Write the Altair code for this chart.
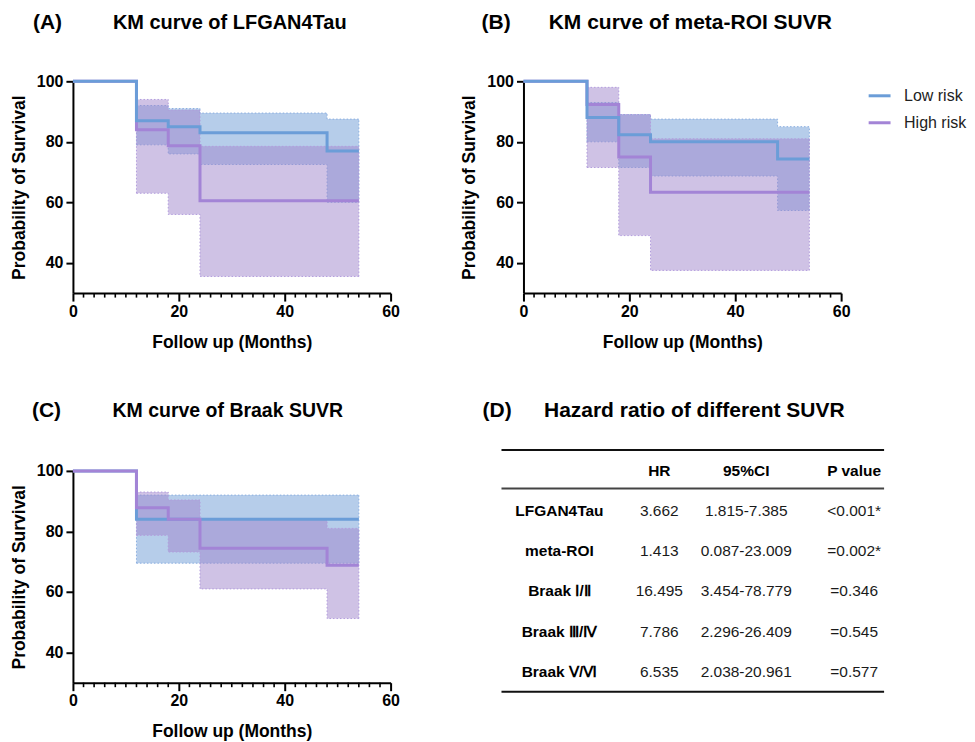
import altair as alt
import pandas as pd

FONT = "Liberation Sans"
BLUE = "#6B9DD8"
PURPLE = "#A384D6"
BLUE_FILL = "#6E9BD6"
PURPLE_FILL = "#9F86CC"
BLUE_EDGE = "#8AAEE0"
PURPLE_EDGE = "#B29CDD"

GROUPS = ["Low risk", "High risk"]
TIMES = [0, 12, 18, 24, 48, 54]
CI_TIMES = [12, 18, 24, 48, 54]
MINOR_TICKS = [2, 4, 6, 8, 10, 12, 14, 16, 18, 22, 24, 26, 28, 30, 32, 34, 36, 38,
               42, 44, 46, 48, 50, 52, 54, 56, 58]
X_TICKS = [0, 20, 40, 60]
Y_TICKS = [40, 60, 80, 100]

# Panel A: LFGAN4Tau
A_LOW = [100, 87, 85, 83, 77, 77]
A_HIGH = [100, 84, 78.7, 60.5, 60.5, 60.5]
A_LOW_UP = [92, 91, 89.5, 87.5, 87.5]
A_LOW_LO = [79, 76, 72.5, 60, 60]
A_HIGH_UP = [94, 90.5, 78.5, 78.5, 78.5]
A_HIGH_LO = [63, 56, 35.5, 35.5, 35.5]

# Panel B: meta-ROI SUVR
B_LOW = [100, 88, 82.3, 80, 74.3, 74.3]
B_HIGH = [100, 92.3, 75, 63.3, 63.3, 63.3]
B_LOW_UP = [93, 89, 87.5, 85, 85]
B_LOW_LO = [80, 71.5, 68.7, 57.3, 57.3]
B_HIGH_UP = [98, 89, 81, 81, 81]
B_HIGH_LO = [71.5, 49, 37.5, 37.5, 37.5]

# Panel C: Braak SUVR
C_LOW = [100, 84, 84, 84, 84, 84]
C_HIGH = [100, 87.8, 84, 74.4, 68.8, 68.8]
C_LOW_UP = [92, 92, 92, 92, 92]
C_LOW_LO = [69.5, 69.5, 69.5, 69.5, 69.5]
C_HIGH_UP = [93, 90.4, 84, 81, 81]
C_HIGH_LO = [78.7, 73.2, 61, 51.2, 51.2]

# Panel D: table
TABLE_HEADER = ["HR", "95%CI", "P value"]
TABLE_ROWS = ["LFGAN4Tau", "meta-ROI", "Braak Ⅰ/Ⅱ", "Braak Ⅲ/Ⅳ", "Braak Ⅴ/Ⅵ"]
TABLE_HR = ["3.662", "1.413", "16.495", "7.786", "6.535"]
TABLE_CI = ["1.815-7.385", "0.087-23.009", "3.454-78.779", "2.296-26.409", "2.038-20.961"]
TABLE_P = ["<0.001*", "=0.002*", "=0.346", "=0.545", "=0.577"]

W, H = 318, 212

XS = alt.Scale(domain=[0, 60], nice=False, zero=False)
YS = alt.Scale(domain=[30, 100], nice=False, zero=False)

XAX = alt.Axis(title="Follow up (Months)", values=X_TICKS, grid=False,
               domainColor="black", domainWidth=2, tickColor="black", tickWidth=2,
               tickSize=8, labelFont=FONT, labelFontSize=16, labelFontWeight="bold",
               labelColor="black", labelPadding=2, labelFlush=False, labelOverlap=False,
               titleFont=FONT, titleFontSize=17.5, titleFontWeight="bold",
               titleColor="black", titlePadding=14)
YAX = alt.Axis(title="Probability of Survival", values=Y_TICKS, grid=False,
               domainColor="black", domainWidth=2, tickColor="black", tickWidth=2,
               tickSize=7, labelFont=FONT, labelFontSize=16, labelFontWeight="bold",
               labelColor="black", labelPadding=3, labelFlush=False, labelOverlap=False,
               titleFont=FONT, titleFontSize=17.5, titleFontWeight="bold",
               titleColor="black", titlePadding=8)


def band_layers(up, lo, fill, edge):
    band = pd.DataFrame({"time": CI_TIMES, "surv": lo, "hi": up})
    area = alt.Chart(band).mark_area(interpolate="step-after", opacity=0.5, color=fill).encode(
        x=alt.X("time:Q", scale=XS, axis=XAX),
        y=alt.Y("surv:Q", scale=YS, axis=YAX),
        y2="hi:Q",
    )
    edges = pd.DataFrame({
        "time": CI_TIMES + CI_TIMES,
        "surv": up + lo,
        "edge": ["upper"] * len(CI_TIMES) + ["lower"] * len(CI_TIMES),
    })
    line = alt.Chart(edges).mark_line(interpolate="step-after", strokeDash=[1.5, 2],
                                      strokeWidth=1, color=edge).encode(
        x=alt.X("time:Q", scale=XS, axis=XAX),
        y=alt.Y("surv:Q", scale=YS, axis=YAX),
        detail="edge:N",
    )
    ends = pd.DataFrame({"time": [CI_TIMES[0], CI_TIMES[-1]],
                         "surv": [lo[0], lo[-1]], "hi": [up[0], up[-1]]})
    sides = alt.Chart(ends).mark_rule(strokeDash=[1.5, 2], strokeWidth=1, color=edge).encode(
        x=alt.X("time:Q", scale=XS, axis=XAX),
        y=alt.Y("surv:Q", scale=YS, axis=YAX),
        y2="hi:Q",
    )
    return [area, line, sides]


def curve_layer(vals, group, color, legend):
    df = pd.DataFrame({"time": TIMES, "surv": vals, "group": group})
    if legend is None:
        stroke = alt.value(color)
    else:
        stroke = alt.Stroke("group:N", scale=alt.Scale(domain=GROUPS, range=[BLUE, PURPLE]),
                            legend=legend)
    return alt.Chart(df).mark_line(interpolate="step-after", strokeWidth=3).encode(
        x=alt.X("time:Q", scale=XS, axis=XAX),
        y=alt.Y("surv:Q", scale=YS, axis=YAX),
        stroke=stroke,
    )


def label_layer(text, x, y, size, align):
    return alt.Chart(pd.DataFrame({"t": [text]})).mark_text(
        font=FONT, fontSize=size, fontWeight="bold", color="black",
        align=align, baseline="middle").encode(
        x=alt.value(x), y=alt.value(y), text="t:N")


def km_panel(low, high, low_up, low_lo, high_up, high_lo, title, letter,
             title_x, letter_x, label_y, title_size, low_on_top, legend=None):
    layers = []
    layers += band_layers(low_up, low_lo, BLUE_FILL, BLUE_EDGE)
    layers += band_layers(high_up, high_lo, PURPLE_FILL, PURPLE_EDGE)
    ticks = alt.Chart(pd.DataFrame({"time": MINOR_TICKS})).mark_rule(
        color="black", strokeWidth=1.6).encode(
        x=alt.X("time:Q", scale=XS, axis=XAX), y=alt.value(H), y2=alt.value(H + 4.5))
    layers.append(ticks)
    lo_line = curve_layer(low, "Low risk", BLUE, legend)
    hi_line = curve_layer(high, "High risk", PURPLE, legend)
    layers += [hi_line, lo_line] if low_on_top else [lo_line, hi_line]
    layers.append(label_layer(title, title_x, label_y, title_size, "center"))
    layers.append(label_layer(letter, letter_x, label_y, 21, "left"))
    return alt.layer(*layers).properties(width=W, height=H)


legend_b = alt.Legend(title=None, orient="none", legendX=344, legendY=2,
                      symbolType="stroke", symbolStrokeWidth=3, symbolSize=480,
                      labelFont=FONT, labelFontSize=16, labelColor="#222",
                      labelOffset=12, rowPadding=6)

panel_a = km_panel(A_LOW, A_HIGH, A_LOW_UP, A_LOW_LO, A_HIGH_UP, A_HIGH_LO,
                   "KM curve of LFGAN4Tau", "(A)", 157, -40, -58.5, 20, True)
panel_b = km_panel(B_LOW, B_HIGH, B_LOW_UP, B_LOW_LO, B_HIGH_UP, B_HIGH_LO,
                   "KM curve of meta-ROI SUVR", "(B)", 167, -42, -58.5, 21, True, legend_b)
panel_c = km_panel(C_LOW, C_HIGH, C_LOW_UP, C_LOW_LO, C_HIGH_UP, C_HIGH_LO,
                   "KM curve of Braak SUVR", "(C)", 155, -41, -60, 19.5, False)

# ---- table panel ----
TW = 383
ROW_DOMAIN = ["header"] + TABLE_ROWS
YR = alt.Scale(type="point", domain=ROW_DOMAIN, range=[0, 201], padding=0)

header_df = pd.DataFrame({"row": ["header"] * 3, "col": TABLE_HEADER, "t": TABLE_HEADER})
body = pd.DataFrame({"row": TABLE_ROWS, "label": TABLE_ROWS, "HR": TABLE_HR,
                     "CI": TABLE_CI, "P": TABLE_P})

COL_X = {"label": 58, "HR": 158, "CI": 245, "P": 353}
HEADER_X = {"HR": 158, "95%CI": 245, "P value": 353}


def table_text(df, field, x, bold):
    return alt.Chart(df).mark_text(font=FONT, fontSize=15.5,
                                   fontWeight="bold" if bold else "normal",
                                   color="black" if bold else "#1a1a1a",
                                   align="center", baseline="middle").encode(
        x=alt.value(x),
        y=alt.Y("row:N", scale=YR, axis=None),
        text=f"{field}:N")


t_layers = []
for h in TABLE_HEADER:
    t_layers.append(table_text(header_df[header_df["col"] == h], "t", HEADER_X[h], True))
t_layers.append(table_text(body, "label", COL_X["label"], True))
t_layers.append(table_text(body, "HR", COL_X["HR"], False))
t_layers.append(table_text(body, "CI", COL_X["CI"], False))
t_layers.append(table_text(body, "P", COL_X["P"], False))


def hrule(y, color):
    return alt.Chart(pd.DataFrame({"r": [0]})).mark_rule(color=color, strokeWidth=2).encode(
        x=alt.value(0), x2=alt.value(TW), y=alt.value(y))


t_layers += [hrule(-21, "#111"), hrule(17.5, "#444"), hrule(221, "#111")]
t_layers.append(label_layer("Hazard ratio of different SUVR", 193, -60, 21, "center"))
t_layers.append(label_layer("(D)", -19, -60, 21, "left"))
panel_d = alt.layer(*t_layers).properties(width=TW, height=H)

row1 = alt.hconcat(panel_a, panel_b, spacing=133, bounds="flush").resolve_scale(
    stroke="independent").resolve_legend(stroke="independent")
row2 = alt.hconcat(panel_c, panel_d, spacing=111, bounds="flush")

# with flush bounds the nested first row counts as zero height, so the spacing
# covers the first row's plot height plus the gap between rows
chart = alt.vconcat(row1, row2, spacing=390, bounds="flush").resolve_scale(
    stroke="independent").resolve_legend(stroke="independent").properties(
    padding={"left": 2, "top": 3, "right": 0, "bottom": 0},
    background="white",
).configure_view(stroke=None)

chart.save("out.html", embed_options={"renderer": "svg", "actions": False})
